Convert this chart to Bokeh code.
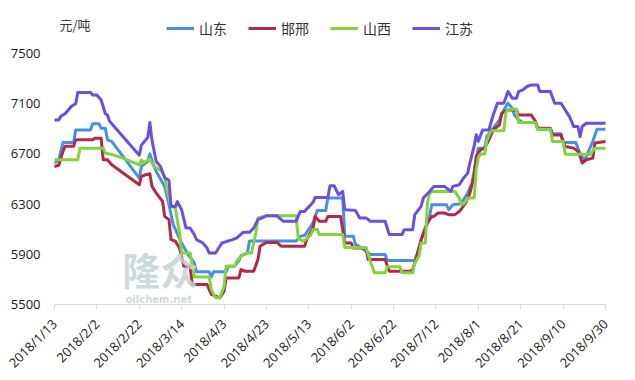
import math
import pandas as pd
from bokeh.plotting import figure
from bokeh.layouts import column
from bokeh.models import (Range1d, FixedTicker, Legend, LegendItem, Label)
from bokeh.embed import file_html
from bokeh.resources import INLINE

start_date = "2018-01-13"
end_date = "2018-09-30"

x_tick_labels = ["2018/1/13", "2018/2/2", "2018/2/22", "2018/3/14", "2018/4/3",
                 "2018/4/23", "2018/5/13", "2018/6/2", "2018/6/22", "2018/7/12",
                 "2018/8/1", "2018/8/21", "2018/9/10", "2018/9/30"]
y_ticks = [5500, 5900, 6300, 6700, 7100, 7500]
unit_label = "元/吨"

series_names = ["山东", "邯邢", "山西", "江苏"]
series_colors = ["#4a8fe3", "#b02a4c", "#84d23c", "#6a4fe0"]

# days since 2018-01-13, price (元/吨)
shandong_day = [0, 2, 3, 4, 9, 10, 17, 18, 21, 22, 24, 25, 27, 40, 41, 44, 45, 47, 48, 52,
                54, 56, 60, 63, 66, 67, 73, 74, 75, 81, 82, 85, 87, 88, 91, 92, 114, 116, 118, 122,
                124, 128, 129, 136, 137, 141, 142, 145, 149, 156, 157, 170, 172, 174, 177, 178, 185, 186, 188, 191,
                193, 195, 197, 199, 200, 203, 204, 207, 210, 212, 214, 216, 217, 219, 221, 227, 228, 234, 235, 239,
                240, 246, 247, 248, 250, 251, 254, 256, 260]
shandong_val = [6630, 6650, 6720, 6790, 6790, 6890, 6890, 6940, 6940, 6905, 6905, 6812, 6800, 6507, 6600, 6640, 6700, 6600, 6560, 6441,
                6295, 6136, 5990, 5898, 5831, 5760, 5760, 5720, 5760, 5760, 5805, 5805, 5850, 5890, 5910, 6005, 6005, 6044, 6050, 6150,
                6250, 6250, 6348, 6348, 6044, 6044, 5980, 5950, 5898, 5898, 5850, 5850, 5950, 6070, 6202, 6295, 6295, 6255, 6295, 6300,
                6335, 6388, 6467, 6653, 6746, 6746, 6839, 6905, 6971, 7050, 7104, 7064, 7010, 6971, 6950, 6950, 6897, 6897, 6860, 6860,
                6790, 6790, 6746, 6706, 6645, 6680, 6800, 6897, 6897]

handan_day = [0, 2, 4, 5, 9, 10, 18, 19, 22, 23, 25, 27, 40, 41, 43, 45, 46, 48, 51, 52,
              54, 55, 57, 59, 61, 64, 65, 72, 74, 78, 80, 81, 87, 88, 90, 94, 96, 97, 100, 105,
              107, 118, 119, 122, 123, 125, 128, 129, 135, 137, 140, 141, 147, 148, 156, 158, 168, 169, 171, 173,
              176, 178, 179, 181, 184, 186, 189, 191, 192, 194, 196, 198, 199, 201, 203, 205, 207, 210, 211, 214,
              218, 219, 225, 227, 228, 234, 235, 239, 240, 241, 245, 247, 248, 249, 251, 254, 255, 260]
handan_val = [6600, 6610, 6720, 6760, 6760, 6812, 6812, 6825, 6825, 6653, 6653, 6613, 6454, 6521, 6534, 6542, 6441, 6388, 6322, 6202,
              6176, 6017, 6005, 5950, 5805, 5805, 5659, 5659, 5580, 5553, 5606, 5712, 5712, 5778, 5765, 5765, 5858, 5964, 5995, 5995,
              5964, 5964, 6017, 6110, 6202, 6163, 6163, 6202, 6202, 5990, 5990, 5950, 5950, 5858, 5858, 5765, 5765, 5778, 5884, 6017,
              6150, 6202, 6202, 6229, 6229, 6216, 6216, 6242, 6261, 6309, 6388, 6520, 6680, 6732, 6746, 6812, 6891, 6931, 7024, 7050,
              7050, 7010, 7010, 6958, 6905, 6905, 6850, 6850, 6799, 6759, 6746, 6720, 6680, 6627, 6653, 6666, 6786, 6799]

shanxi_day = [0, 11, 12, 23, 24, 26, 30, 36, 40, 41, 42, 45, 47, 50, 52, 53, 55, 57, 59, 60,
              64, 66, 73, 74, 76, 78, 80, 81, 85, 86, 88, 91, 93, 95, 96, 100, 114, 115, 117, 118,
              121, 122, 124, 125, 136, 137, 147, 149, 151, 156, 157, 163, 164, 169, 170, 172, 173, 175, 176, 177,
              179, 189, 191, 192, 193, 195, 198, 199, 200, 201, 203, 204, 206, 212, 213, 214, 218, 219, 227, 228,
              234, 235, 240, 241, 253, 255, 260]
shanxi_val = [6653, 6653, 6746, 6746, 6706, 6700, 6680, 6640, 6613, 6653, 6630, 6658, 6600, 6570, 6521, 6414, 6282, 6270, 6070, 5911,
              5911, 5720, 5720, 5619, 5553, 5553, 5646, 5805, 5805, 5845, 5885, 5911, 5911, 6070, 6189, 6207, 6207, 6030, 6005, 6010,
              6057, 6096, 6100, 6057, 6057, 5955, 5955, 5845, 5752, 5752, 5800, 5800, 5752, 5752, 5830, 5884, 5990, 5990, 6310, 6388,
              6401, 6401, 6348, 6295, 6300, 6348, 6348, 6573, 6670, 6700, 6700, 6805, 6885, 6885, 7030, 7056, 7056, 6950, 6950, 6897,
              6897, 6799, 6799, 6698, 6698, 6746, 6746]

jiangsu_day = [0, 2, 3, 5, 6, 8, 10, 11, 17, 18, 20, 21, 22, 24, 25, 26, 40, 41, 44, 45,
               46, 48, 50, 52, 54, 55, 57, 58, 60, 62, 64, 66, 67, 70, 72, 73, 76, 79, 84, 86,
               89, 92, 94, 96, 98, 100, 105, 108, 114, 116, 118, 122, 123, 129, 130, 132, 134, 136, 137, 142,
               144, 147, 149, 156, 158, 164, 165, 169, 170, 173, 174, 177, 179, 184, 187, 188, 191, 193, 195, 196,
               198, 199, 200, 202, 205, 207, 209, 212, 214, 216, 218, 219, 221, 223, 225, 228, 229, 234, 236, 239,
               241, 243, 245, 247, 248, 249, 251, 260]
jiangsu_val = [6970, 6970, 7000, 7020, 7040, 7080, 7100, 7190, 7190, 7170, 7170, 7150, 7130, 7020, 7010, 6960, 6690, 6770, 6830, 6950,
               6810, 6640, 6600, 6510, 6490, 6280, 6280, 6320, 6255, 6110, 6110, 6057, 6017, 5990, 5950, 5910, 5910, 5990, 6017, 6030,
               6075, 6075, 6110, 6176, 6190, 6207, 6207, 6163, 6163, 6242, 6242, 6314, 6353, 6353, 6446, 6446, 6375, 6401, 6255, 6250,
               6190, 6190, 6163, 6163, 6057, 6057, 6096, 6096, 6216, 6282, 6348, 6401, 6441, 6441, 6401, 6441, 6454, 6507, 6547, 6627,
               6759, 6852, 6800, 6891, 6891, 7010, 7104, 7104, 7197, 7144, 7144, 7197, 7210, 7237, 7250, 7250, 7197, 7197, 7104, 7104,
               7050, 6997, 6918, 6918, 6838, 6918, 6944, 6944]

series_days = [shandong_day, handan_day, shanxi_day, jiangsu_day]
series_vals = [shandong_val, handan_val, shanxi_val, jiangsu_val]

t0 = pd.Timestamp(start_date)
t1 = pd.Timestamp(end_date)

FONT = "Open Sans"
CJK = "Noto Sans CJK SC"
W = 635
HEAD_H = 40
MAIN_H = 340

# ---------- header: unit label + legend ----------
head = figure(width=W, height=HEAD_H, output_backend="svg", toolbar_location=None,
              x_range=Range1d(0, 1), y_range=Range1d(0, 1),
              x_axis_location=None, y_axis_location=None,
              min_border_left=0, min_border_right=0, min_border_top=0, min_border_bottom=0)
head.outline_line_color = None
head.xgrid.visible = False
head.ygrid.visible = False
head_items = []
for name, col, days, vals in zip(series_names, series_colors, series_days, series_vals):
    # legend proxy: same series, lies outside this header's ranges, so only its legend glyph shows
    r = head.line(x=days, y=vals, line_color=col, line_width=3)
    head_items.append(LegendItem(label=name, renderers=[r]))
legend = Legend(items=head_items, orientation="horizontal", location=(112, 2),
                glyph_width=28, glyph_height=20, label_standoff=5, spacing=21,
                padding=0, margin=0, border_line_color=None, background_fill_alpha=0,
                label_text_font=CJK, label_text_font_size="14px", label_text_color="#333333")
head.add_layout(legend)
head.add_layout(Label(x=5, y=HEAD_H - 24, x_units="screen", y_units="screen", text=unit_label,
                      text_font=CJK, text_font_size="13px", text_color="#333333",
                      text_baseline="middle"))

# ---------- main chart ----------
p = figure(width=W, height=MAIN_H, output_backend="svg", toolbar_location=None,
           x_axis_type="datetime",
           x_range=Range1d(t0, t1), y_range=Range1d(5500, 7500),
           min_border_left=54, min_border_right=30, min_border_top=13, min_border_bottom=75)
p.outline_line_color = None
p.xgrid.visible = False
p.ygrid.visible = False

# watermark
p.add_layout(Label(x=t0 + pd.Timedelta(days=32), y=5565, text="隆众",
                   text_font=CJK, text_font_size="38px", text_font_style="bold",
                   text_color="#c6d2d6", text_alpha=0.85, text_baseline="bottom"))
p.add_layout(Label(x=t0 + pd.Timedelta(days=33.5), y=5500, text="oilchem.net",
                   text_font="DejaVu Sans", text_font_size="10px", text_font_style="bold",
                   text_color="#c6d2d6", text_alpha=0.85, text_baseline="bottom"))

for days, vals, col in zip(series_days, series_vals, series_colors):
    xs = [t0 + pd.Timedelta(days=d) for d in days]
    p.line(xs, vals, line_color=col, line_width=3, line_join="round", line_cap="round")

tick_ts = [pd.to_datetime(s, format="%Y/%m/%d") for s in x_tick_labels]
tick_ms = [int(t.value // 10**6) for t in tick_ts]
xa = p.xaxis[0]
xa.ticker = FixedTicker(ticks=tick_ms)
xa.major_label_overrides = {ms: lab for ms, lab in zip(tick_ms, x_tick_labels)}
xa.major_label_orientation = math.pi / 4
xa.axis_line_color = "#d9d9d9"
xa.major_tick_line_color = "#d9d9d9"
xa.major_tick_in = 0
xa.major_tick_out = 5
xa.minor_tick_line_color = None
xa.major_label_text_font = FONT
xa.major_label_text_font_size = "13px"
xa.major_label_text_color = "#1a1a1a"
xa.major_label_standoff = 12

ya = p.yaxis[0]
ya.ticker = FixedTicker(ticks=y_ticks)
ya.axis_line_color = None
ya.major_tick_line_color = None
ya.major_tick_out = 0
ya.major_tick_in = 0
ya.minor_tick_line_color = None
ya.major_label_text_font = FONT
ya.major_label_text_font_size = "13px"
ya.major_label_text_color = "#1a1a1a"
ya.major_label_standoff = 14

layout = column(head, p, spacing=0)
open("out.html", "w").write(file_html(layout, INLINE))
